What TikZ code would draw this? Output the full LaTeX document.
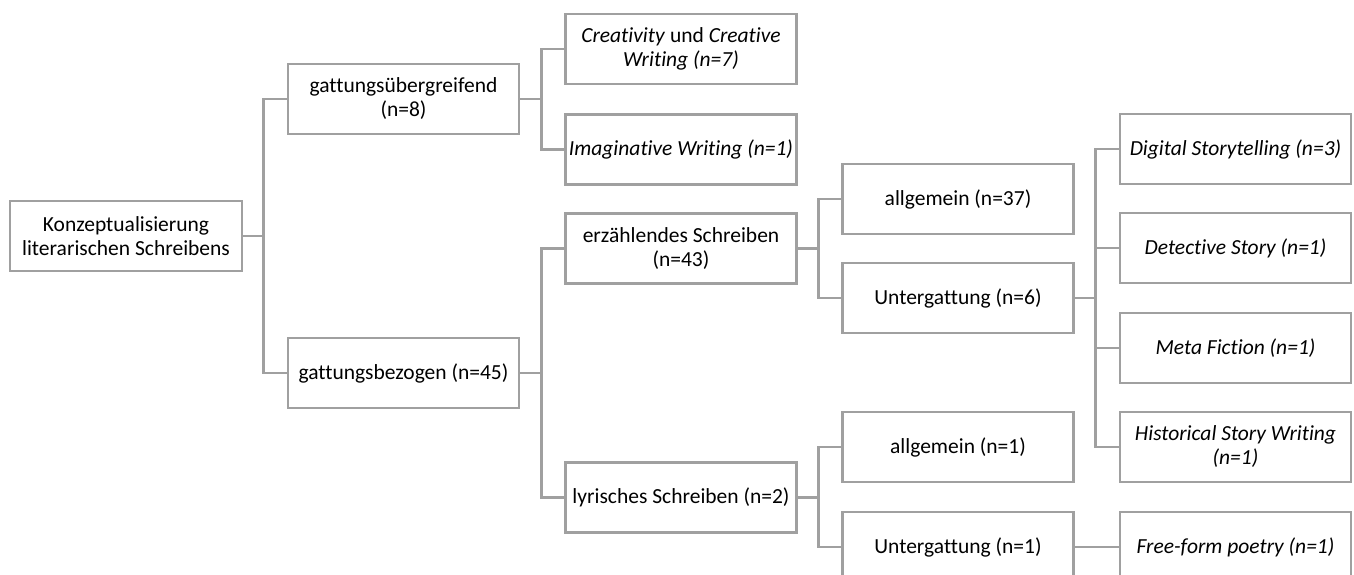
\documentclass[tikz,border=0pt]{standalone}
\usepackage{fontspec}
\setmainfont{Carlito}[Ligatures={NoCommon}]
\definecolor{lineg}{RGB}{160,160,160}
\tikzset{
  box/.style={draw=lineg, line width=2.6pt, fill=white, rectangle, minimum width=231pt, minimum height=70pt, inner sep=0pt, align=center, font=\fontsize{21.5}{24}\selectfont},
  conn/.style={draw=lineg, line width=2.6pt}
}
\begin{document}
\begin{tikzpicture}[x=1pt,y=-1pt]
\useasboundingbox (0,0) rectangle (1354,575);
\clip (0,0) rectangle (1354,575);
% column centres: 126, 403.5, 681, 958, 1235.5
\node[box, minimum width=232pt] (root) at (126,236) {Konzeptualisierung\\literarischen Schreibens};
\node[box] (gu) at (403.5,99) {gattungsübergreifend\\(n=8)};
\node[box] (gb) at (403.5,373) {gattungsbezogen (n=45)};
\node[box] (cr) at (681,49) {\textit{Creativity} und \textit{Creative}\\\textit{Writing (n=7)}};
\node[box] (im) at (681,149.5) {\textit{Imaginative Writing (n=1)}};
\node[box] (er) at (681,248.5) {erzählendes Schreiben\\(n=43)};
\node[box] (ly) at (681,497.5) {lyrisches Schreiben (n=2)};
\node[box] (a37) at (958,199) {allgemein (n=37)};
\node[box] (u6) at (958,298) {Untergattung (n=6)};
\node[box] (a1) at (958,447) {allgemein (n=1)};
\node[box] (u1) at (958,547) {Untergattung (n=1)};
\node[box] (ds) at (1235.5,149) {\textit{Digital Storytelling (n=3)}};
\node[box] (de) at (1235.5,248) {\textit{Detective Story (n=1)}};
\node[box] (mf) at (1235.5,348) {\textit{Meta Fiction (n=1)}};
\node[box] (hs) at (1235.5,447) {\textit{Historical Story Writing}\\\textit{(n=1)}};
\node[box] (ff) at (1235.5,547) {\textit{Free-form poetry (n=1)}};
% connectors
\foreach \p/\c in {root/gu, root/gb, gu/cr, gu/im, gb/er, gb/ly, er/a37, er/u6, ly/a1, ly/u1, u6/ds, u6/de, u6/mf, u6/hs, u1/ff}{
  \draw[conn] (\p.east) -| ([xshift=-23pt]\c.west) -- (\c.west);
}
\end{tikzpicture}
\end{document}
